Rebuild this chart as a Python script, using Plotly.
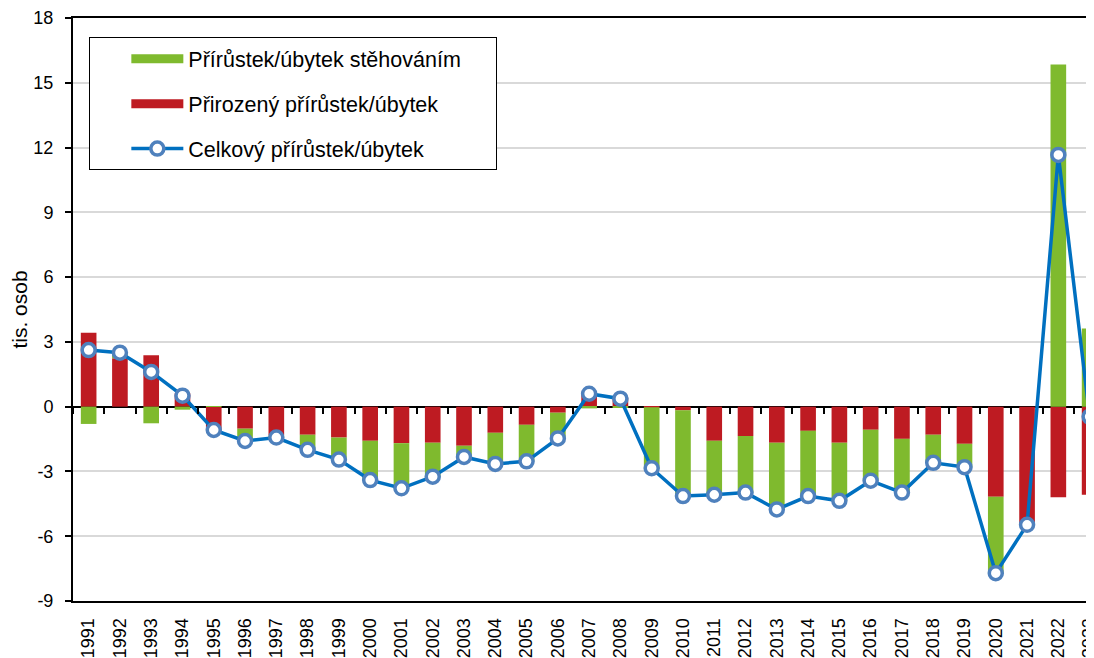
import plotly.graph_objects as go

years = [str(y) for y in range(1991, 2024)]
natural = [3.42, 2.24, 2.38, 0.62, -1.10, -1.02, -1.33, -1.30, -1.43, -1.58, -1.69,
           -1.67, -1.81, -1.21, -0.84, -0.28, 0.68, 0.43, -0.03, -0.17, -1.58, -1.36,
           -1.67, -1.12, -1.67, -1.07, -1.49, -1.30, -1.72, -4.17, -5.42, -4.19, -4.08]
migration = [-0.80, 0.26, -0.77, -0.14, 0.02, -0.57, -0.10, -0.70, -1.02, -1.82, -2.09,
             -1.57, -0.52, -1.44, -1.69, -1.19, -0.08, -0.06, -2.82, -3.97, -2.50, -2.62,
             -3.09, -3.02, -2.69, -2.36, -2.49, -1.30, -1.08, -3.54, -0.05, 15.85, 3.62]
total = [2.62, 2.50, 1.61, 0.51, -1.08, -1.59, -1.43, -2.00, -2.45, -3.40, -3.78,
         -3.24, -2.33, -2.65, -2.53, -1.47, 0.60, 0.37, -2.85, -4.14, -4.08, -3.98,
         -4.76, -4.14, -4.36, -3.43, -3.98, -2.60, -2.80, -7.71, -5.47, 11.66, -0.46]
y_ticks = [-9, -6, -3, 0, 3, 6, 9, 12, 15, 18]
y_tick_text = [str(v) for v in y_ticks]

name_mig = "Přírůstek/úbytek stěhováním"
name_nat = "Přirozený přírůstek/úbytek"
name_tot = "Celkový přírůstek/úbytek"
PAD = "\u00a0" * 5  # extra right padding inside the legend box

FONT = "Liberation Sans, Arial, sans-serif"
GREEN = "#7FBA2E"
RED = "#BE1B22"
BLUE = "#0070C0"
MARK = "#4F81BD"

fig = go.Figure()
fig.add_trace(go.Bar(x=years, y=natural, name=name_nat,
                     marker=dict(color=RED, line=dict(width=0)),
                     showlegend=False))
fig.add_trace(go.Bar(x=years, y=migration, name=name_mig,
                     marker=dict(color=GREEN, line=dict(width=0)),
                     showlegend=False))
fig.add_trace(go.Scatter(x=years, y=total, name=name_tot,
                         mode="lines+markers",
                         line=dict(color=BLUE, width=3.5),
                         marker=dict(symbol="circle", size=13, color="white",
                                     line=dict(color=MARK, width=3.5)),
                         legendrank=3, legendgroup="c"))
# legend swatches (wide bands like the original)
fig.add_trace(go.Scatter(x=[None], y=[None], mode="lines", name=name_mig + PAD,
                         line=dict(color=GREEN, width=9),
                         legendrank=1, legendgroup="a", hoverinfo="skip"))
fig.add_trace(go.Scatter(x=[None], y=[None], mode="lines", name=name_nat,
                         line=dict(color=RED, width=9),
                         legendrank=2, legendgroup="b", hoverinfo="skip"))
# helper trace for the tick axis on the zero line
fig.add_trace(go.Scatter(x=years, y=[None] * len(years), xaxis="x2", yaxis="y",
                         showlegend=False, hoverinfo="skip", mode="markers"))

fig.update_layout(
    width=1086, height=650,
    margin=dict(l=65, r=0, t=9.5, b=57, pad=0),
    paper_bgcolor="white", plot_bgcolor="white",
    barmode="relative", bargap=0.5,
    font=dict(family=FONT, size=18, color="black"),
    showlegend=True,
    legend=dict(x=0.016, y=0.967, xanchor="left", yanchor="top",
                bgcolor="white", bordercolor="black", borderwidth=1,
                font=dict(family=FONT, size=21.5, color="black"),
                traceorder="grouped", tracegroupgap=14, itemwidth=52,
                indentation=36),
    xaxis=dict(type="category", range=[-0.5, 32.14], showgrid=False,
               showline=True, linecolor="black", linewidth=2, mirror=True,
               ticks="", tickangle=-90, tickfont=dict(size=18),
               ticklabelstandoff=8,
               zeroline=False, automargin=False),
    xaxis2=dict(type="category", overlaying="x", matches="x", anchor="free",
                position=1 / 3, side="bottom", showgrid=False, showline=False,
                showticklabels=False, ticks="outside", ticklen=6, tickwidth=2,
                tickcolor="black", tickson="boundaries", zeroline=False,
                automargin=False),
    yaxis=dict(range=[-9, 18], tickmode="array", tickvals=y_ticks,
               ticktext=y_tick_text, showgrid=True,
               gridcolor="#D9D9D9", gridwidth=1.5,
               showline=True, linecolor="black", linewidth=2,
               ticks="outside", ticklen=6, tickcolor="black", tickwidth=1.5,
               ticklabelstandoff=8,
               zeroline=True, zerolinecolor="black", zerolinewidth=2,
               tickfont=dict(size=18), automargin=False,
               title=dict(text="tis. osob", font=dict(size=21), standoff=1)),
)

fig.write_html("out.html")
